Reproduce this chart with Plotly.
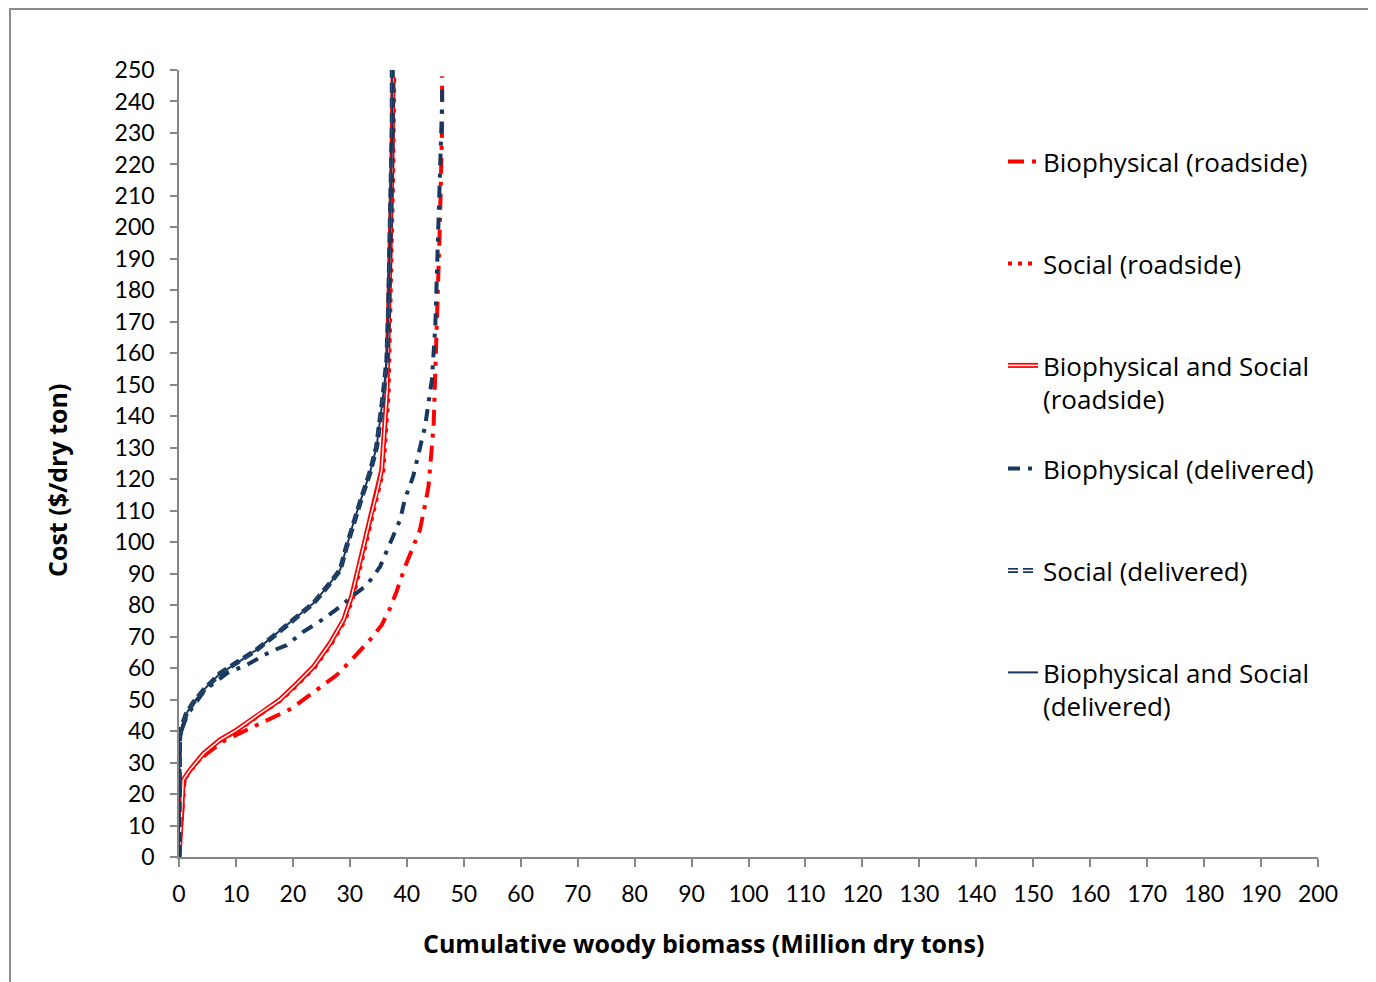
import plotly.graph_objects as go

# ---------------- data ----------------
bio_road_x = [0, 0.2, 0.5, 1.0, 2.5, 5.0, 8.0, 12.5, 16.6, 19.8, 21.8, 24.2, 27.7, 30.3, 33.5, 35.6,
              37.05, 38.2, 39.7, 41.1, 42.3, 42.9, 43.8, 44.7, 45.3, 45.8, 46.2, 46.2]
bio_road_y = [0, 5, 15, 25, 29, 33, 37, 40.8, 44.5, 47.2, 49.9, 53, 57.8, 62.6, 68.9, 73.7,
              79, 84.3, 92.2, 98.5, 103.9, 109.1, 117.6, 136.7, 168.4, 200.2, 231.9, 248]

soc_road_x = [0, 0.2, 0.5, 0.9, 2.1, 4.5, 7.5, 10.4, 14.5, 18.0, 21.0, 23.9, 26.8, 29.2, 30.6, 31.8,
              32.7, 33.8, 35.0, 35.9, 36.8, 37.1, 37.35, 37.6, 37.8]
soc_road_y = [0, 5, 16, 24.5, 27.6, 32.9, 37.2, 40.3, 45.6, 49.9, 55.1, 60.4, 67.8, 75.3, 82.7, 91.2,
              98.5, 107, 115.5, 123, 147.3, 168.4, 189.6, 216, 248]

bs_road_x = [0, 0.2, 0.5, 0.75, 1.9, 4.3, 7.2, 10.1, 14.2, 17.7, 20.7, 23.6, 26.5, 28.9, 30.3, 31.5,
             32.4, 33.5, 34.7, 35.6, 36.5, 36.8, 37.05, 37.35, 37.6]
bs_road_y = [0, 5, 16, 24.5, 27.6, 32.9, 37.2, 40.3, 45.6, 49.9, 55.1, 60.4, 67.8, 75.3, 82.7, 91.2,
             98.5, 107, 115.5, 123, 147.3, 168.4, 189.6, 216, 247.8]

bio_del_x = [0, 0, 0.2, 1.4, 4.5, 8.5, 11.9, 16.0, 18.9, 21.8, 25.1, 28.3, 30.3, 33.0, 35.3, 37.05,
             38.8, 39.7, 41.1, 43.2, 44.4, 45.0, 45.3, 45.6, 46.0, 46.2, 46.2]
bio_del_y = [0, 20, 39, 45, 53, 58.5, 61, 65.2, 67.3, 71.5, 75.3, 79.5, 82.7, 86.4, 92.2, 99.6,
             107, 113.9, 120.8, 136.7, 151.5, 168.4, 185.4, 202.3, 221.4, 239.4, 246]

soc_del_x = [0, 0, 0.1, 0.5, 1.3, 2.5, 4.3, 7.2, 10.1, 13.6, 17.2, 20.7, 23.6, 26.5, 28.3, 29.4,
             30.6, 32.1, 33.5, 34.7, 35.9, 36.5, 36.8, 37.05, 37.2, 37.45, 37.45]
soc_del_y = [0, 20, 38, 41.5, 45.6, 49, 53, 58.3, 61.5, 65.8, 71, 76.3, 80.6, 86.9, 91.2, 98.5,
             106, 114.4, 121.9, 130.3, 147.3, 157.9, 173.8, 194.9, 210.8, 231.9, 250]

bs_del_x = [0, 0, 0.1, 0.5, 1.3, 2.5, 4.3, 7.2, 10.1, 13.6, 17.2, 20.7, 23.6, 26.5, 28.3, 29.4,
            30.6, 32.1, 33.5, 34.7, 35.9, 36.5, 36.8, 37.05, 37.2, 37.45, 37.45]
bs_del_y = [0, 20, 38, 41.5, 45.6, 49, 53, 58.3, 61.5, 65.8, 71, 76.3, 80.6, 86.9, 91.2, 98.5,
            106, 114.4, 121.9, 130.3, 147.3, 157.9, 173.8, 194.9, 210.8, 231.9, 250]

names = ["Biophysical (roadside)", "Social (roadside)", "Biophysical and Social<br>(roadside)",
         "Biophysical (delivered)", "Social (delivered)", "Biophysical and Social<br>(delivered)"]

x_ticks = list(range(0, 201, 10))
y_ticks = list(range(0, 251, 10))

# ---------------- styling ----------------
RED = "#FF0000"
NAVY = "#17375E"
TICK_FONT = dict(family="Lato", size=23, color="black")
LEG_FONT = dict(family="Open Sans", size=26, color="black")
TITLE_FONT = dict(family="Open Sans", size=25, color="black")

fig = go.Figure()

# Biophysical (roadside): long dash - dot
fig.add_trace(go.Scatter(x=bio_road_x, y=bio_road_y, mode="lines", name=names[0],
                         line=dict(color=RED, width=4, dash="16px,8px,4px,8px"),
                         legend="legend"))
# Social (roadside): dotted
fig.add_trace(go.Scatter(x=soc_road_x, y=soc_road_y, mode="lines", name=names[1],
                         line=dict(color=RED, width=4, dash="4px,6px"),
                         legend="legend2"))
# Biophysical and Social (roadside): double line
fig.add_trace(go.Scatter(x=bs_road_x, y=bs_road_y, mode="lines", name=names[2],
                         line=dict(color=RED, width=5), legend="legend3"))
fig.add_trace(go.Scatter(x=bs_road_x, y=bs_road_y, mode="lines", name=" ",
                         line=dict(color="white", width=1.5), legend="legend7",
                         hoverinfo="skip"))
# Biophysical (delivered): dash - dot
fig.add_trace(go.Scatter(x=bio_del_x, y=bio_del_y, mode="lines", name=names[3],
                         line=dict(color=NAVY, width=4, dash="12px,8px,4px,8px"),
                         legend="legend4"))
# Social (delivered): hollow dashes
fig.add_trace(go.Scatter(x=soc_del_x, y=soc_del_y, mode="lines", name=names[4],
                         line=dict(color=NAVY, width=5, dash="10px,5px"), legend="legend5"))
fig.add_trace(go.Scatter(x=soc_del_x, y=soc_del_y, mode="lines", name=" ",
                         line=dict(color="white", width=1.5, dash="10px,5px"), legend="legend8",
                         hoverinfo="skip"))
# Biophysical and Social (delivered): thin solid
fig.add_trace(go.Scatter(x=bs_del_x, y=bs_del_y, mode="lines", name=names[5],
                         line=dict(color=NAVY, width=2), legend="legend6"))

# page body has an 8px margin: figure occupies 8..1376 x 8..982
OFF = 8
W, H = 1376 - OFF, 982 - OFF
L, R, T, B = 179 - OFF, 58, 70 - OFF, 125
pw, ph = W - L - R, H - T - B


def px_x(px):
    return (px - OFF - L) / pw


def px_y(py):
    return (H - B - (py - OFF)) / ph


def leg(top_px):
    return dict(x=px_x(1003), y=px_y(top_px), xanchor="left", yanchor="top",
                bgcolor="rgba(0,0,0,0)", font=LEG_FONT, valign="top",
                itemwidth=30, borderwidth=0)

tops = [138, 240, 342, 445, 547, 649]
layout_legends = {}
keys = ["legend", "legend2", "legend3", "legend4", "legend5", "legend6"]
for k, t in zip(keys, tops):
    layout_legends[k] = leg(t)
layout_legends["legend7"] = leg(tops[2])
layout_legends["legend8"] = leg(tops[4])

axis_common = dict(showline=True, linecolor="#868686", linewidth=1.5, ticks="outside",
                   tickcolor="#868686", tickwidth=1.5, showgrid=False, zeroline=False,
                   tickfont=TICK_FONT)

fig.update_layout(
    width=W, height=H,
    margin=dict(l=L, r=R, t=T, b=B),
    paper_bgcolor="white", plot_bgcolor="white",
    showlegend=True,
    xaxis=dict(range=[0, 200], tickvals=x_ticks, ticklen=8, ticklabelstandoff=8, **axis_common),
    yaxis=dict(range=[0, 250], tickvals=y_ticks, ticklen=7, ticklabelstandoff=11, **axis_common),
    annotations=[
        dict(text="<b>Cumulative woody biomass (Million dry tons)</b>", xref="paper", yref="paper",
             x=px_x(703), y=px_y(943), xanchor="center", yanchor="middle", showarrow=False,
             font=TITLE_FONT),
        dict(text="<b>Cost ($/dry ton)</b>", xref="paper", yref="paper", textangle=-90,
             x=px_x(57), y=px_y(481), xanchor="center", yanchor="middle", showarrow=False,
             font=TITLE_FONT),
    ],
    shapes=[dict(type="rect", xref="paper", yref="paper", x0=px_x(10), x1=px_x(1390),
                 y0=px_y(990), y1=px_y(9), line=dict(color="#8C8C8C", width=2), layer="below")],
    **layout_legends,
)

fig.write_html("out.html", config={"displayModeBar": False})
